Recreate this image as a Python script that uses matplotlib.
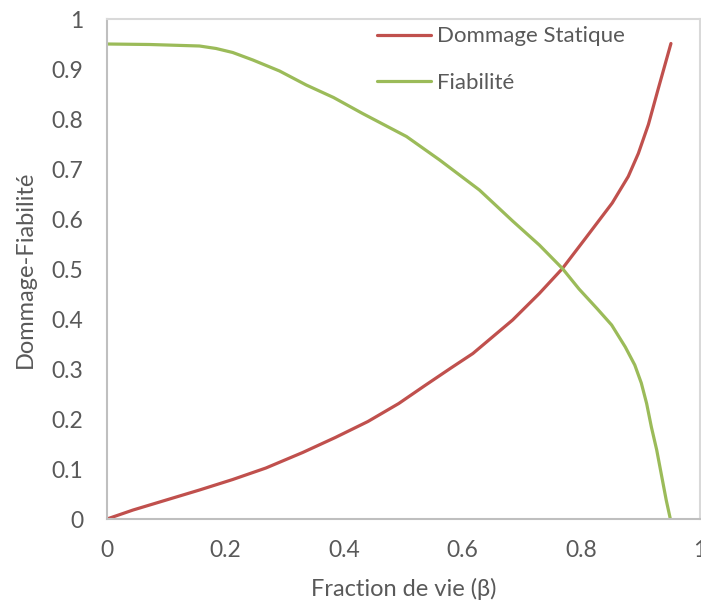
import matplotlib.pyplot as plt

# Fraction of life (beta) and the two curves
beta_dommage = [0, 0.044, 0.100, 0.156, 0.212, 0.268, 0.330, 0.385, 0.440, 0.492,
                0.535, 0.580, 0.617, 0.684, 0.729, 0.768, 0.806, 0.852, 0.879,
                0.896, 0.913, 0.929, 0.951]
dommage = [0, 0.018, 0.038, 0.058, 0.079, 0.102, 0.133, 0.163, 0.195, 0.231,
           0.266, 0.302, 0.331, 0.398, 0.451, 0.501, 0.560, 0.632, 0.685,
           0.731, 0.789, 0.858, 0.951]

beta_fiab = [0, 0.072, 0.156, 0.184, 0.212, 0.246, 0.291, 0.336, 0.382, 0.431,
             0.505, 0.561, 0.628, 0.684, 0.729, 0.768, 0.796, 0.827, 0.851,
             0.874, 0.890, 0.901, 0.910, 0.918, 0.927, 0.943, 0.950]
fiabilite = [0.950, 0.949, 0.946, 0.941, 0.933, 0.918, 0.896, 0.868, 0.843, 0.811,
             0.765, 0.718, 0.658, 0.596, 0.548, 0.501, 0.460, 0.420, 0.388,
             0.344, 0.308, 0.272, 0.231, 0.184, 0.138, 0.038, 0.0]

xticks = [0, 0.2, 0.4, 0.6, 0.8, 1]
xtick_labels = ['0', '0.2', '0.4', '0.6', '0.8', '1']
yticks = [0, 0.1, 0.2, 0.3, 0.4, 0.5, 0.6, 0.7, 0.8, 0.9, 1]
ytick_labels = ['0', '0.1', '0.2', '0.3', '0.4', '0.5', '0.6', '0.7', '0.8', '0.9', '1']

plt.rcParams['font.family'] = ['Lato', 'DejaVu Sans']
text_color = '#595959'

fig = plt.figure(figsize=(7.01, 6.01), dpi=100)
ax = fig.add_axes([107 / 701, 82 / 601, 593 / 701, 500 / 601])

ax.plot(beta_dommage, dommage, color='#C0504D', linewidth=2.3,
        label='Dommage Statique', solid_capstyle='round', solid_joinstyle='round')
ax.plot(beta_fiab, fiabilite, color='#9BBB59', linewidth=2.3,
        label='Fiabilité', solid_capstyle='round', solid_joinstyle='round')

ax.set_xlim(0, 1)
ax.set_ylim(0, 1)
ax.set_xticks(xticks)
ax.set_xticklabels(xtick_labels)
ax.set_yticks(yticks)
ax.set_yticklabels(ytick_labels)
ax.tick_params(axis='both', length=0, labelsize=16.5, colors=text_color)
ax.tick_params(axis='x', pad=15)
ax.tick_params(axis='y', pad=17)

for side in ax.spines.values():
    side.set_color('#D9D9D9')
    side.set_linewidth(1.5)
ax.spines['left'].set_color('#BFBFBF')
ax.spines['bottom'].set_color('#BFBFBF')

ax.set_xlabel('Fraction de vie (β)', fontsize=17, color=text_color, labelpad=12)
ax.set_ylabel('Dommage-Fiabilité', fontsize=17, color=text_color, labelpad=11)

leg = ax.legend(loc='upper left', bbox_to_anchor=(0.455, 0.985), frameon=False,
                fontsize=16, handlelength=2.43, handletextpad=0.27,
                labelspacing=1.2, borderpad=0, borderaxespad=0)
for t in leg.get_texts():
    t.set_color(text_color)

fig.savefig('out.png', dpi=100)
